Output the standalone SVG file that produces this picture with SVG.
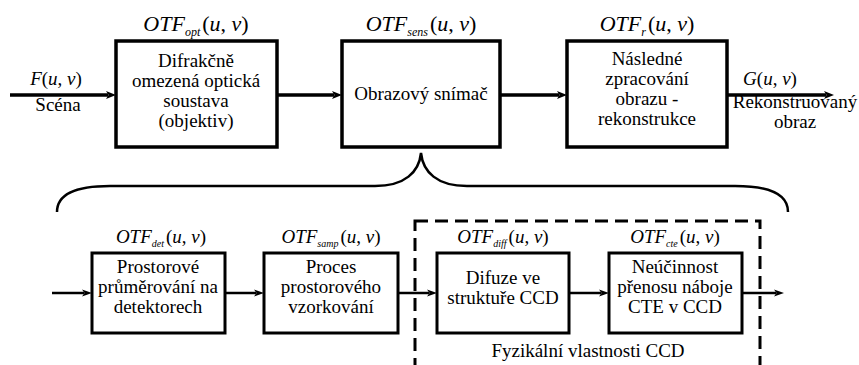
<svg xmlns="http://www.w3.org/2000/svg" width="859" height="365" viewBox="0 0 859 365" font-family="serif">
<rect width="859" height="365" fill="#fff"/>

<g id="connectors" fill="none" stroke="#000">
<g stroke-width="3.5">
<line x1="10" y1="95" x2="108" y2="95"/>
<line x1="277" y1="95" x2="334" y2="95"/>
<line x1="500" y1="95" x2="559" y2="95"/>
<line x1="727" y1="95" x2="826" y2="95"/>
</g>
<g stroke-width="2.5">
<line x1="52" y1="293" x2="84" y2="293"/>
<line x1="225" y1="293" x2="256" y2="293"/>
<line x1="398" y1="293" x2="429" y2="293"/>
<line x1="569" y1="293" x2="601" y2="293"/>
<line x1="742" y1="293" x2="776" y2="293"/>
</g>
<g fill="#000" stroke="none">
<polygon points="106,91 116,95 106,99 108.5,95"/>
<polygon points="332,91 342,95 332,99 334.5,95"/>
<polygon points="557,91 567,95 557,99 559.5,95"/>
<polygon points="824,91 834,95 824,99 826.5,95"/>
<polygon points="82,289.5 92,293 82,296.5 84.5,293"/>
<polygon points="254,289.5 264,293 254,296.5 256.5,293"/>
<polygon points="427,289.5 437,293 427,296.5 429.5,293"/>
<polygon points="599,289.5 609,293 599,296.5 601.5,293"/>
<polygon points="774,289.5 784,293 774,296.5 776.5,293"/>
</g>
</g>

<g id="brace">
<path fill="none" stroke="#000" stroke-width="2.5" d="M57,212 C57,196 72,186 110,186 L375,186 C405,186 419,172 421,153 C423,172 437,186 467,186 L735,186 C772,186 788,196 788,212"/>
</g>

<g id="ccd-group">
<rect x="415" y="221" width="345" height="160" fill="none" stroke="#000" stroke-width="3" stroke-dasharray="13,7"/>
<text font-family="Times New Roman, serif" font-size="19" text-anchor="middle" x="588" y="357">Fyzikální vlastnosti CCD</text>
</g>

<g id="input">
<text font-family="Times New Roman, serif" font-size="19" text-anchor="middle" x="56" y="85"><tspan font-style="italic">F</tspan>(<tspan font-style="italic">u</tspan>, <tspan font-style="italic">v</tspan>)</text>
<text font-family="Times New Roman, serif" font-size="19" text-anchor="middle" x="58" y="111">Scéna</text>
</g>

<g id="opt">
<rect x="116" y="41" width="161" height="106" fill="#fff" stroke="#000" stroke-width="3.5"/>
<text font-family="Times New Roman, serif" font-size="22" text-anchor="middle" x="196" y="31"><tspan font-style="italic">OTF</tspan><tspan font-style="italic" font-size="12" dy="5">opt</tspan><tspan dy="-5" dx="2">(</tspan><tspan font-style="italic">u</tspan>, <tspan font-style="italic">v</tspan>)</text>
<text font-family="Times New Roman, serif" font-size="19" text-anchor="middle" x="196" y="67">Difrakčně</text>
<text font-family="Times New Roman, serif" font-size="19" text-anchor="middle" x="196" y="87">omezená optická</text>
<text font-family="Times New Roman, serif" font-size="19" text-anchor="middle" x="196" y="107">soustava</text>
<text font-family="Times New Roman, serif" font-size="19" text-anchor="middle" x="196" y="127">(objektiv)</text>
</g>

<g id="sens">
<rect x="342" y="41" width="158" height="106" fill="#fff" stroke="#000" stroke-width="3.5"/>
<text font-family="Times New Roman, serif" font-size="22" text-anchor="middle" x="421" y="31"><tspan font-style="italic">OTF</tspan><tspan font-style="italic" font-size="12" dy="5">sens</tspan><tspan dy="-5" dx="2">(</tspan><tspan font-style="italic">u</tspan>, <tspan font-style="italic">v</tspan>)</text>
<text font-family="Times New Roman, serif" font-size="19" text-anchor="middle" x="421" y="100">Obrazový snímač</text>
</g>

<g id="rec">
<rect x="567" y="41" width="160" height="106" fill="#fff" stroke="#000" stroke-width="3.5"/>
<text font-family="Times New Roman, serif" font-size="22" text-anchor="middle" x="647" y="31"><tspan font-style="italic">OTF</tspan><tspan font-style="italic" font-size="12" dy="5">r</tspan><tspan dy="-5" dx="2">(</tspan><tspan font-style="italic">u</tspan>, <tspan font-style="italic">v</tspan>)</text>
<text font-family="Times New Roman, serif" font-size="19" text-anchor="middle" x="647" y="65">Následné</text>
<text font-family="Times New Roman, serif" font-size="19" text-anchor="middle" x="647" y="85">zpracování</text>
<text font-family="Times New Roman, serif" font-size="19" text-anchor="middle" x="647" y="105">obrazu -</text>
<text font-family="Times New Roman, serif" font-size="19" text-anchor="middle" x="647" y="125">rekonstrukce</text>
</g>

<g id="output">
<text font-family="Times New Roman, serif" font-size="19" text-anchor="middle" x="770" y="85"><tspan font-style="italic">G</tspan>(<tspan font-style="italic">u</tspan>, <tspan font-style="italic">v</tspan>)</text>
<text font-family="Times New Roman, serif" font-size="19" text-anchor="middle" x="795" y="108">Rekonstruovaný</text>
<text font-family="Times New Roman, serif" font-size="19" text-anchor="middle" x="795" y="128">obraz</text>
</g>

<g id="det">
<rect x="92" y="253" width="133" height="80" fill="#fff" stroke="#000" stroke-width="3"/>
<text font-family="Times New Roman, serif" font-size="19" text-anchor="middle" x="161" y="243"><tspan font-style="italic">OTF</tspan><tspan font-style="italic" font-size="10" dy="4">det</tspan><tspan dy="-4" dx="2">(</tspan><tspan font-style="italic">u</tspan>, <tspan font-style="italic">v</tspan>)</text>
<text font-family="Times New Roman, serif" font-size="19" text-anchor="middle" x="158" y="273">Prostorové</text>
<text font-family="Times New Roman, serif" font-size="19" text-anchor="middle" x="158" y="293">průměrování na</text>
<text font-family="Times New Roman, serif" font-size="19" text-anchor="middle" x="158" y="313">detektorech</text>
</g>

<g id="samp">
<rect x="264" y="253" width="134" height="80" fill="#fff" stroke="#000" stroke-width="3"/>
<text font-family="Times New Roman, serif" font-size="19" text-anchor="middle" x="331" y="243"><tspan font-style="italic">OTF</tspan><tspan font-style="italic" font-size="10" dy="4">samp</tspan><tspan dy="-4" dx="2">(</tspan><tspan font-style="italic">u</tspan>, <tspan font-style="italic">v</tspan>)</text>
<text font-family="Times New Roman, serif" font-size="19" text-anchor="middle" x="331" y="273">Proces</text>
<text font-family="Times New Roman, serif" font-size="19" text-anchor="middle" x="331" y="293">prostorového</text>
<text font-family="Times New Roman, serif" font-size="19" text-anchor="middle" x="331" y="313">vzorkování</text>
</g>

<g id="diff">
<rect x="437" y="253" width="132" height="80" fill="#fff" stroke="#000" stroke-width="3"/>
<text font-family="Times New Roman, serif" font-size="19" text-anchor="middle" x="503" y="243"><tspan font-style="italic">OTF</tspan><tspan font-style="italic" font-size="10" dy="4">diff</tspan><tspan dy="-4" dx="2">(</tspan><tspan font-style="italic">u</tspan>, <tspan font-style="italic">v</tspan>)</text>
<text font-family="Times New Roman, serif" font-size="19" text-anchor="middle" x="503" y="284">Difuze ve</text>
<text font-family="Times New Roman, serif" font-size="19" text-anchor="middle" x="503" y="304">struktuře CCD</text>
</g>

<g id="cte">
<rect x="609" y="253" width="133" height="80" fill="#fff" stroke="#000" stroke-width="3"/>
<text font-family="Times New Roman, serif" font-size="19" text-anchor="middle" x="675" y="243"><tspan font-style="italic">OTF</tspan><tspan font-style="italic" font-size="10" dy="4">cte</tspan><tspan dy="-4" dx="2">(</tspan><tspan font-style="italic">u</tspan>, <tspan font-style="italic">v</tspan>)</text>
<text font-family="Times New Roman, serif" font-size="19" text-anchor="middle" x="675" y="273">Neúčinnost</text>
<text font-family="Times New Roman, serif" font-size="19" text-anchor="middle" x="675" y="293">přenosu náboje</text>
<text font-family="Times New Roman, serif" font-size="19" text-anchor="middle" x="675" y="313">CTE v CCD</text>
</g>
</svg>
